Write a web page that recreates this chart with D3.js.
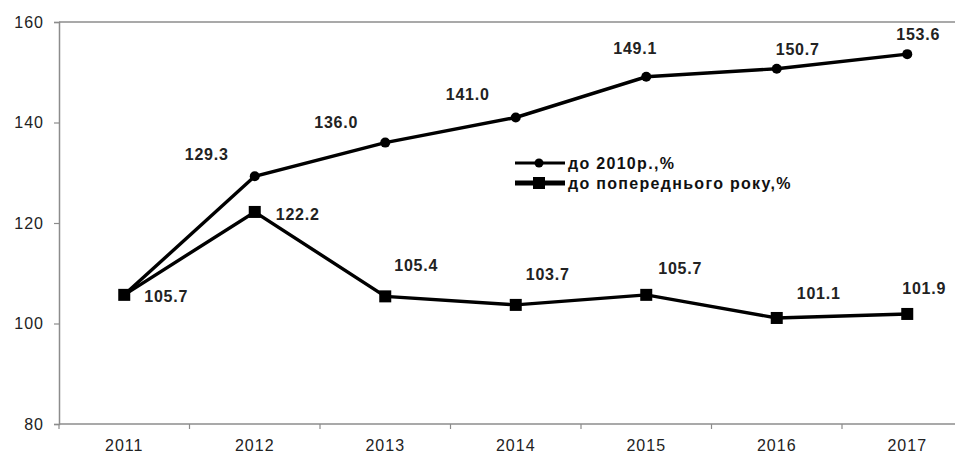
<!DOCTYPE html>
<html><head><meta charset="utf-8">
<script src="https://cdn.jsdelivr.net/npm/d3@7"></script>
<style>
html,body{margin:0;padding:0;background:#fff;}
svg{display:block;font-family:"Liberation Sans",Arial,sans-serif;}
</style></head>
<body>
<svg id="chart" width="955" height="455"></svg>
<script>
const years = ["2011","2012","2013","2014","2015","2016","2017"];
const seriesNames = ["до 2010р.,%","до попереднього року,%"];
const vs2010 = [105.7,129.3,136.0,141.0,149.1,150.7,153.6];
const vsPrev = [105.7,122.2,105.4,103.7,105.7,101.1,101.9];
const yTicks = [80,100,120,140,160];
// label offsets (px) relative to the marker
const offs1 = [null,[-48,-22],[-49,-20],[-48,-23],[-11,-28],[21,-19],[11,-20]];
const offs2 = [[42,2],[43,3],[31,-31],[32,-30],[34,-26],[42,-24],[17,-25]];

const svg = d3.select("#chart");
const left = 59, band = 130.5;
const x = d3.scaleBand().domain(years).range([left, left + band*years.length]).padding(0);
const y = d3.scaleLinear().domain([80,160]).range([424,22]);
const cx = d => x(d) + x.bandwidth()/2;
const axisColor = "#8c8c8c";

// top line at 160
svg.append("line").attr("x1",left).attr("x2",955).attr("y1",y(160)).attr("y2",y(160))
  .attr("stroke",axisColor).attr("stroke-width",1.5);

// y axis
const ya = svg.append("g").attr("transform",`translate(${left},0)`)
  .call(d3.axisLeft(y).tickValues(yTicks).tickSize(5).tickPadding(10).tickFormat(d3.format("d")));
ya.select(".domain").attr("stroke",axisColor).attr("stroke-width",1.5);
ya.selectAll(".tick line").attr("stroke",axisColor).attr("stroke-width",1.2);
ya.selectAll(".tick text").attr("fill","#222").style("font-size","16px").style("font-family","Liberation Sans, Arial").attr("letter-spacing","1px");

// x axis
const xa = svg.append("g").attr("transform",`translate(0,${y(80)})`)
  .call(d3.axisBottom(x).tickSize(0).tickPadding(16));
xa.select(".domain").remove();
xa.append("line").attr("x1",left).attr("x2",955).attr("stroke",axisColor).attr("stroke-width",1.5);
xa.selectAll(".tick text").attr("fill","#222").style("font-size","16px").style("font-family","Liberation Sans, Arial").attr("letter-spacing","1px");
xa.selectAll(".btick").data(years).enter().append("line").attr("class","btick")
  .attr("x1",d=>x(d)).attr("x2",d=>x(d)).attr("y1",0).attr("y2",5)
  .attr("stroke",axisColor).attr("stroke-width",1.2);

const line = d3.line().x((d,i)=>cx(years[i])).y(d=>y(d));

// series 2 (squares)
svg.append("path").datum(vsPrev).attr("d",line).attr("fill","none").attr("stroke","#000").attr("stroke-width",3.4);
// series 1 (circles)
svg.append("path").datum(vs2010).attr("d",line).attr("fill","none").attr("stroke","#000").attr("stroke-width",3.4);

svg.selectAll(".sq").data(vsPrev).enter().append("rect").attr("class","sq")
  .attr("x",(d,i)=>cx(years[i])-6).attr("y",d=>y(d)-6).attr("width",12).attr("height",12).attr("fill","#000");
svg.selectAll(".ci").data(vs2010).enter().append("circle").attr("class","ci")
  .attr("cx",(d,i)=>cx(years[i])).attr("cy",d=>y(d)).attr("r",5).attr("fill","#000");

function labels(data, offs){
  svg.append("g").selectAll("text").data(data.map((v,i)=>({v,i})).filter(d=>offs[d.i]))
    .enter().append("text")
    .attr("x",d=>cx(years[d.i])+offs[d.i][0])
    .attr("y",d=>y(d.v)+offs[d.i][1])
    .attr("text-anchor","middle").attr("dominant-baseline","central")
    .attr("fill","#222").style("font-size","16px").style("font-weight","bold").attr("letter-spacing","0.8px")
    .text(d=>d3.format(".1f")(d.v));
}
labels(vs2010, offs1);
labels(vsPrev, offs2);

// legend
const lg = svg.append("g");
const rows = [{name:seriesNames[0], y:163, type:"c"},{name:seriesNames[1], y:183, type:"s"}];
rows.forEach(r=>{
  lg.append("line").attr("x1",515).attr("x2",565).attr("y1",r.y).attr("y2",r.y)
    .attr("stroke","#000").attr("stroke-width", r.type==="c"?3.2:5);
  if(r.type==="c") lg.append("circle").attr("cx",539).attr("cy",r.y).attr("r",4.5).attr("fill","#000");
  else lg.append("rect").attr("x",533).attr("y",r.y-6).attr("width",12).attr("height",12).attr("fill","#000");
  lg.append("text").attr("x",568).attr("y",r.y).attr("dominant-baseline","central")
    .attr("fill","#111").style("font-size","16px").style("font-weight","bold").attr("letter-spacing","1.3px")
    .text(r.name);
});
</script>
</body></html>
